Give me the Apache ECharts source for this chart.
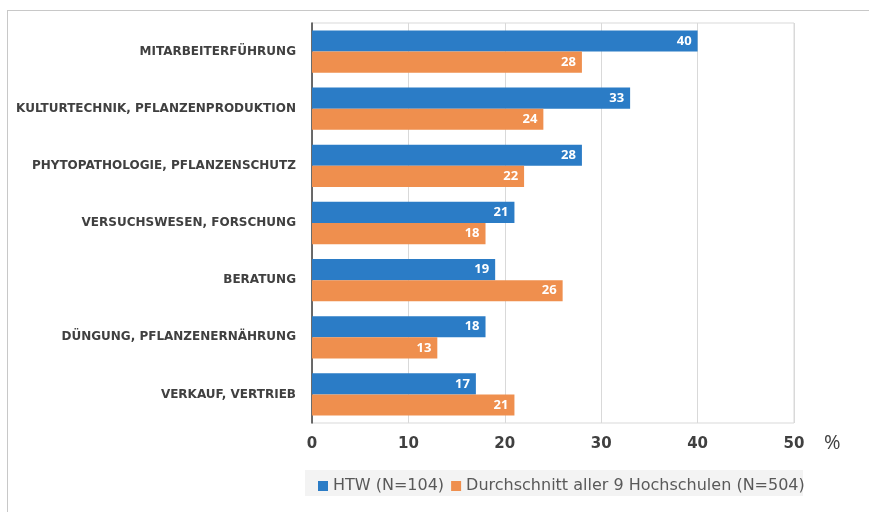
<!DOCTYPE html>
<html lang="de">
<head>
<meta charset="UTF-8">
<title>Chart</title>
<style>
  html, body { margin: 0; padding: 0; background: #fff; }
  #main { width: 869px; height: 512px; }
</style>
</head>
<body>
<div id="main"></div>
<script src="https://cdn.jsdelivr.net/npm/echarts@6/dist/echarts.min.js"></script>
<script>
var categories = ['MITARBEITERFÜHRUNG', 'KULTURTECHNIK, PFLANZENPRODUKTION', 'PHYTOPATHOLOGIE, PFLANZENSCHUTZ',
  'VERSUCHSWESEN, FORSCHUNG', 'BERATUNG', 'DÜNGUNG, PFLANZENERNÄHRUNG', 'VERKAUF, VERTRIEB'];
var htw = [40, 33, 28, 21, 19, 18, 17];
var avg = [28, 24, 22, 18, 26, 13, 21];
var seriesNames = ['HTW (N=104)', 'Durchschnitt aller 9 Hochschulen (N=504)'];
var xTicks = { min: 0, max: 50, interval: 10 };

var font = 'Open Sans';
var wide = 'DejaVu Sans';
var chart = echarts.init(document.getElementById('main'));

// excel-style bar labels
var barLabel = {
  show: true,
  position: 'insideRight',
  distance: 6,
  color: '#fff',
  fontWeight: 'bold',
  fontSize: 13,
  fontFamily: font
};

chart.setOption({
  animation: false,
  textStyle: { fontFamily: font },
  graphic: [
    { type: 'line', shape: { x1: 7, y1: 10.5, x2: 869, y2: 10.5 }, style: { stroke: '#c8c8c8', lineWidth: 1 } },
    { type: 'line', shape: { x1: 7.5, y1: 10, x2: 7.5, y2: 512 }, style: { stroke: '#c8c8c8', lineWidth: 1 } },
    { type: 'rect', shape: { x: 305, y: 470, width: 498, height: 26 }, style: { fill: '#f3f3f3' }, z: -1 }
  ],
  grid: {
    left: 312, right: 75, top: 23, bottom: 89,
    show: true, borderColor: '#d9d9d9', borderWidth: 1
  },
  legend: {
    data: seriesNames,
    left: 313, top: 473,
    itemWidth: 10, itemHeight: 10, itemGap: 7,
    icon: 'rect',
    textStyle: { fontSize: 16, color: '#595959', fontFamily: wide }
  },
  xAxis: {
    type: 'value',
    min: xTicks.min, max: xTicks.max, interval: xTicks.interval,
    name: '%',
    nameLocation: 'end',
    nameGap: 30,
    nameTextStyle: { fontSize: 20, color: '#404040', verticalAlign: 'top', padding: [10, 0, 0, 0] },
    axisLine: { show: false },
    axisTick: { show: false },
    axisLabel: { fontSize: 15, fontWeight: 'bold', color: '#404040', margin: 14, fontFamily: wide },
    splitLine: { lineStyle: { color: '#d9d9d9' } }
  },
  yAxis: {
    type: 'category',
    data: categories,
    inverse: true,
    axisLine: { lineStyle: { color: '#404040', width: 1.5 } },
    axisTick: { show: false },
    axisLabel: { fontSize: 12, fontWeight: 'bold', color: '#404040', margin: 16, fontFamily: wide }
  },
  series: [
    {
      name: seriesNames[0], type: 'bar', data: htw,
      itemStyle: { color: '#2b7cc6' },
      barGap: '0%', barCategoryGap: '26%',
      label: barLabel
    },
    {
      name: seriesNames[1], type: 'bar', data: avg,
      itemStyle: { color: '#ef8f4e' },
      label: barLabel
    }
  ]
});
</script>
</body>
</html>
